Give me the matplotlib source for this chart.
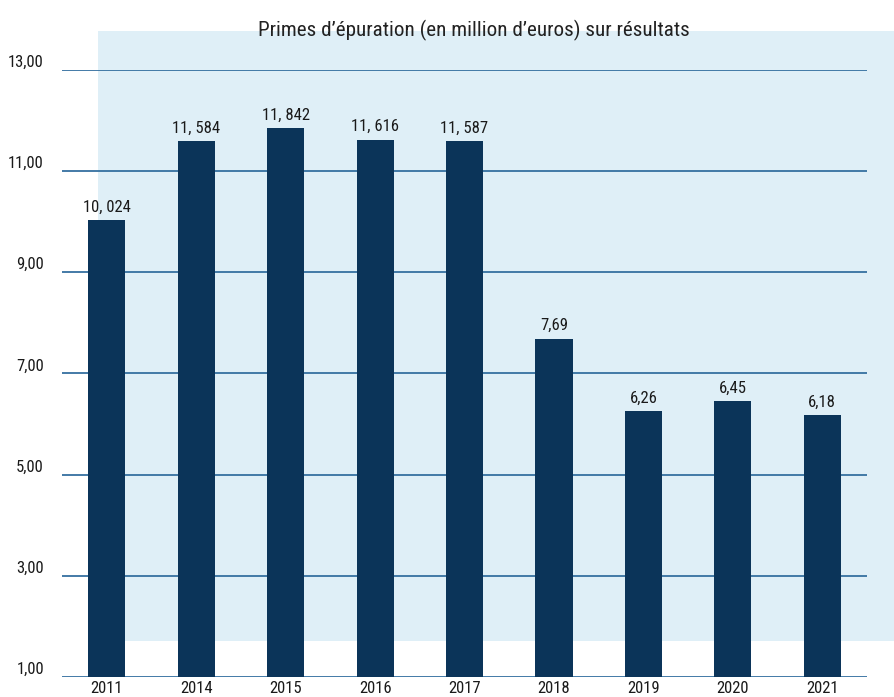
import numpy as np
import matplotlib
matplotlib.use('Agg')
import matplotlib.pyplot as plt
from matplotlib.patches import Rectangle

plt.rcParams['font.family'] = ['Roboto Condensed', 'DejaVu Sans']

# données
years = ['2011', '2014', '2015', '2016', '2017', '2018', '2019', '2020', '2021']
values = [10.024, 11.584, 11.842, 11.616, 11.587, 7.69, 6.26, 6.45, 6.18]
value_labels = ['10, 024', '11, 584', '11, 842', '11, 616', '11, 587',
                '7,69', '6,26', '6,45', '6,18']
y_ticks = [1, 3, 5, 7, 9, 11, 13]
y_tick_labels = ['1,00', '3,00', '5,00', '7,00', '9,00', '11,00', '13,00']
title = 'Primes d\u2019épuration (en million d\u2019euros) sur résultats'

bar_color = '#0b3459'
grid_color = '#3570a0'
bg_color = '#dfeff7'

fig = plt.figure(figsize=(8.94, 6.97), dpi=100)
ax = fig.add_axes([0.0694, 0.0283, 0.9004, 0.8717])
ax.patch.set_visible(False)

# fond bleu clair
ax.add_patch(Rectangle((0.1096, 0.0803), 0.8904, 0.8752,
                       transform=fig.transFigure, facecolor=bg_color,
                       edgecolor='none', zorder=0, clip_on=False))

x = np.arange(len(years))
ax.bar(x, values, width=0.415, color=bar_color, zorder=3)

for yt in y_ticks:
    ax.axhline(yt, color=grid_color, linewidth=1.3, zorder=1)

for xi, v, lab in zip(x, values, value_labels):
    ax.annotate(lab, xy=(xi, v), xytext=(0, 4), textcoords='offset points',
                ha='center', va='bottom', fontsize=12, color='#1a1a1a')

ax.set_xlim(-0.5, len(years) - 0.5)
ax.set_ylim(1, 13)
ax.set_xticks(x)
ax.set_xticklabels(years, fontsize=12, color='#1a1a1a')
ax.set_yticks(y_ticks)
ax.set_yticklabels(y_tick_labels, fontsize=12, color='#1a1a1a')
for t in ax.get_yticklabels():
    t.set_verticalalignment('bottom')
ax.tick_params(axis='both', length=0)
ax.tick_params(axis='y', pad=13)
ax.tick_params(axis='x', pad=3)
for s in ax.spines.values():
    s.set_visible(False)

fig.text(0.53, 0.956, title, ha='center', va='center', fontsize=15.2,
         color='#222222')

plt.savefig('out.png', dpi=100)
